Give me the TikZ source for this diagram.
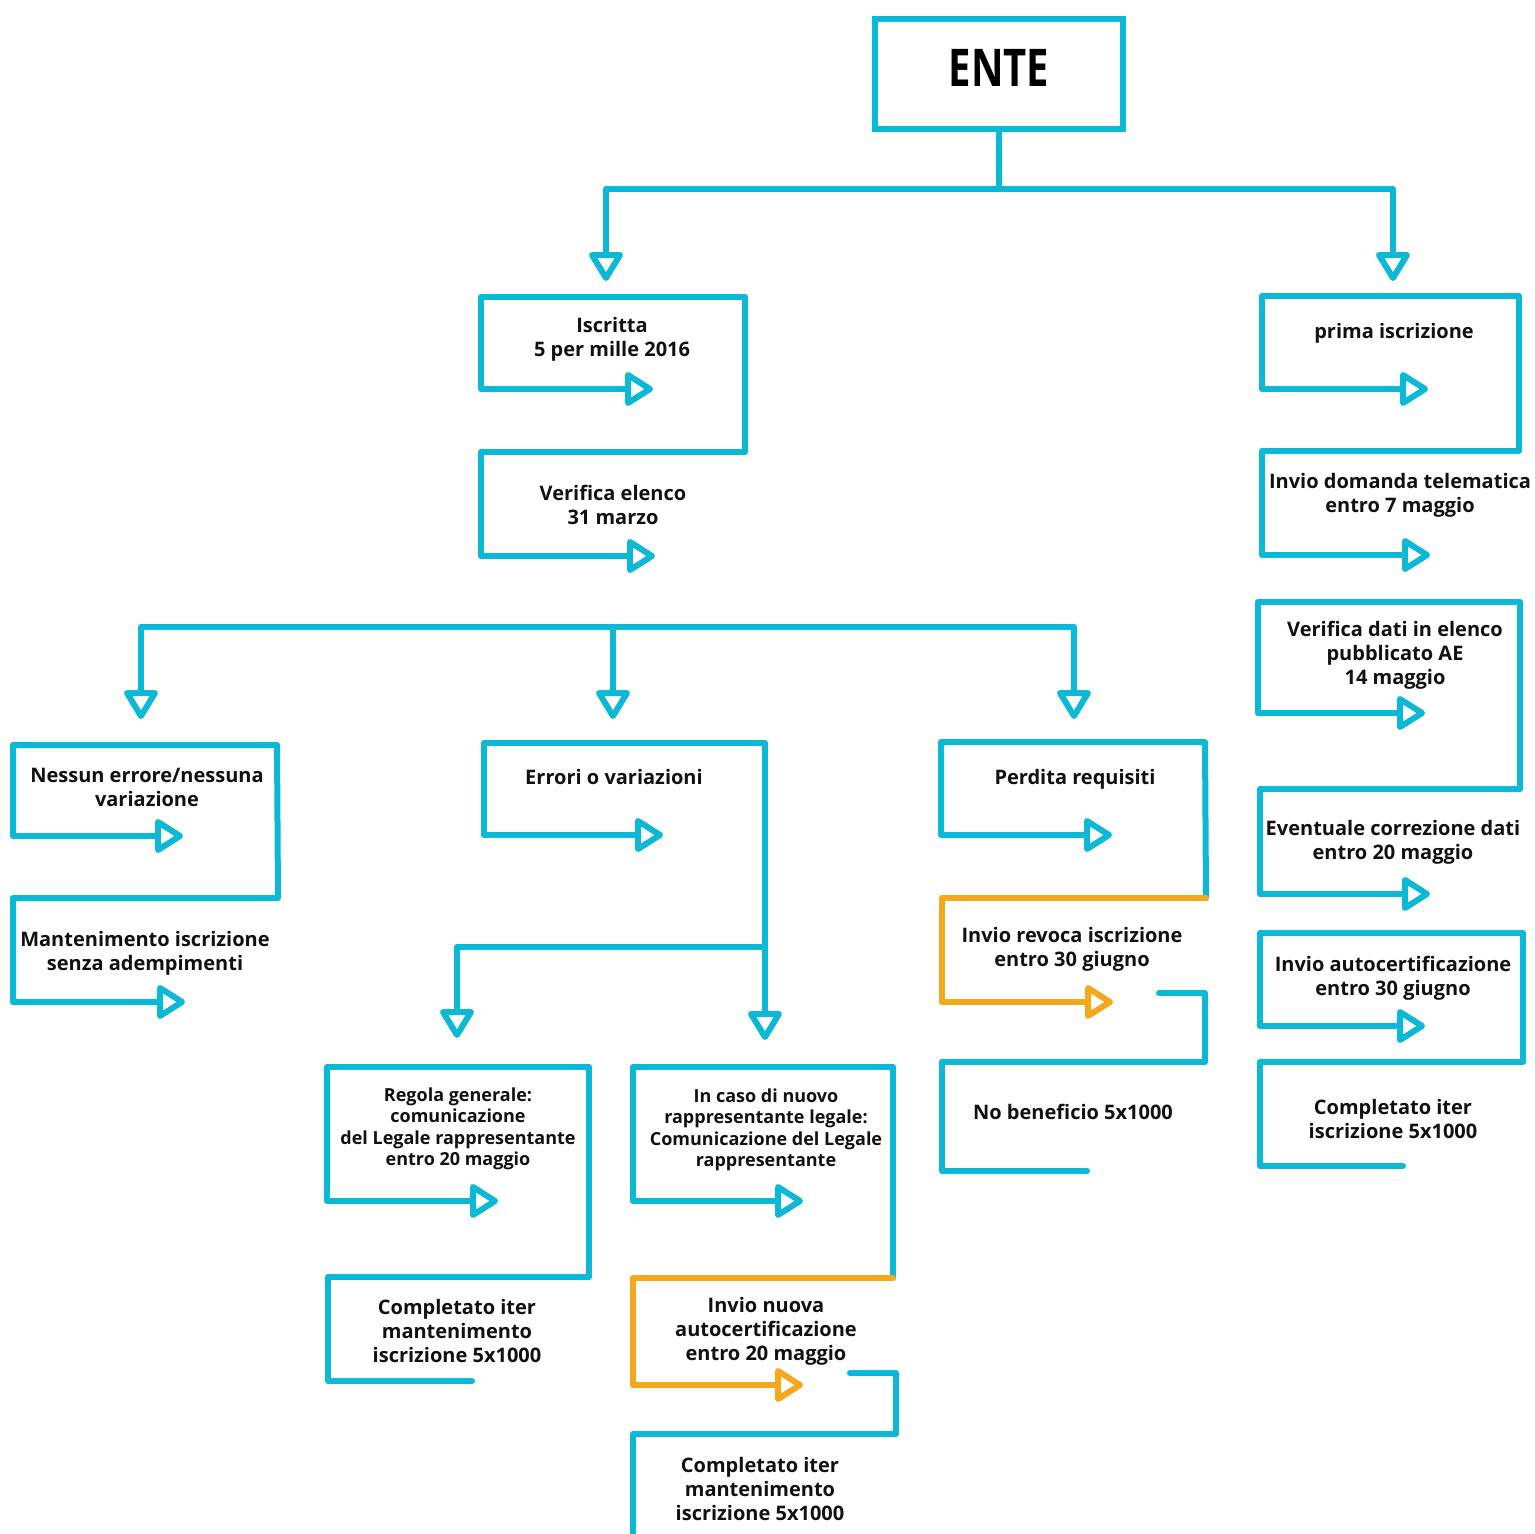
\documentclass[tikz,border=0pt]{standalone}
\usepackage{fontspec}
\setmainfont{Open Sans}
\usepackage{graphicx}
\definecolor{cyanc}{HTML}{0BB8D5}
\definecolor{orangec}{HTML}{F6A81B}
\definecolor{txt}{HTML}{111111}
\tikzset{
  bl/.style={draw=cyanc, line width=6pt, line cap=round, line join=round},
  ol/.style={draw=orangec, line width=6pt, line cap=round, line join=round},
  lbl/.style={align=center, text=txt, inner sep=0pt, yshift=-2pt, font=\fontsize{20}{24}\selectfont\bfseries},
  lbls/.style={align=center, text=txt, inner sep=0pt, yshift=-2pt, font=\fontsize{18}{21.5}\selectfont\bfseries},
  rarr/.pic={\path[pic actions] (0,-14) -- (22,0) -- (0,14) -- cycle;},
  darr/.pic={\path[pic actions] (-14,0) -- (0,23) -- (14,0) -- cycle;}
}
\begin{document}
\begin{tikzpicture}[x=1pt,y=-1pt]
\useasboundingbox[fill=white] (0,0) rectangle (1535,1534);

% ENTE
\node[draw=cyanc, line width=6pt, minimum width=248pt, minimum height=110pt, inner sep=0pt] (ente) at (999,74) {};
\node[text=black, inner sep=0pt] (entelbl) at (999,68) {\fontsize{52}{60}\selectfont\bfseries\scalebox{0.77}[1]{ENTE}};
\draw[bl] (ente.south) -- (999,189);
\draw[bl] (606,255) -- (606,189) -- (1393,189) -- (1393,255);
\pic[bl] at (606,255) {darr};
\pic[bl] at (1393,255) {darr};

% Iscritta group
\draw[bl] (628,389) -- (481,389) -- (481,297) -- (745,297) -- (745,452) -- (481,452) -- (481,556) -- (630,556);
\pic[bl] at (628,389) {rarr};
\pic[bl] at (630,556) {rarr};
\node[lbl] (iscritta) at (612,337) {Iscritta\\5 per mille 2016};
\node[lbl] (verifica) at (613,503) {Verifica elenco\\31 marzo};

% prima iscrizione group
\draw[bl] (1403,389) -- (1262,389) -- (1262,296) -- (1519,296) -- (1519,451) -- (1262,451) -- (1262,555) -- (1405,555);
\pic[bl] at (1403,389) {rarr};
\pic[bl] at (1405,555) {rarr};
\node[lbl] (prima) at (1394,331) {prima iscrizione};
\node[lbl] (invio) at (1400,493) {Invio domanda telematica\\entro 7 maggio};

% Verifica dati group
\draw[bl] (1400,713) -- (1258,713) -- (1258,602) -- (1520,602) -- (1520,789) -- (1260,789) -- (1260,894) -- (1405,894);
\pic[bl] at (1400,713) {rarr};
\pic[bl] at (1405,894) {rarr};
\node[lbl] (vdati) at (1395,653) {Verifica dati in elenco\\pubblicato AE\\14 maggio};
\node[lbl] (corr) at (1393,840) {Eventuale correzione dati\\entro 20 maggio};

% Invio autocertificazione group
\draw[bl] (1400,1026) -- (1260,1026) -- (1260,933) -- (1523,933) -- (1523,1062) -- (1260,1062) -- (1260,1166) -- (1403,1166);
\pic[bl] at (1400,1026) {rarr};
\node[lbl] (autoc) at (1393,976) {Invio autocertificazione\\entro 30 giugno};
\node[lbl] (compl1) at (1393,1117) {Completato iter\\iscrizione 5x1000};

% level 2 bus
\draw[bl] (141,693) -- (141,627) -- (1074,627) -- (1074,693);
\draw[bl] (613,627) -- (613,693);
\pic[bl] at (141,693) {darr};
\pic[bl] at (613,693) {darr};
\pic[bl] at (1074,693) {darr};

% Group A
\draw[bl] (158,836) -- (13,836) -- (13,745) -- (277,745) -- (278,898) -- (13,898) -- (13,1002) -- (160,1002);
\pic[bl] at (158,836) {rarr};
\pic[bl] at (160,1002) {rarr};
\node[lbl] (nessun) at (147,785) {Nessun errore/nessuna\\variazione};
\node[lbl] (mant) at (145,951) {Mantenimento iscrizione\\senza adempimenti};

% Group B
\draw[bl] (638,835) -- (484,835) -- (484,743) -- (765,743) -- (765,1014);
\draw[bl] (765,947) -- (457,947) -- (457,1012);
\pic[bl] at (638,835) {rarr};
\pic[bl] at (457,1012) {darr};
\pic[bl] at (765,1014) {darr};
\node[lbl] (errori) at (614,775) {Errori o variazioni};

% Group C
\draw[bl] (1087,835) -- (941,835) -- (941,742) -- (1205,742) -- (1206,898);
\pic[bl] at (1087,835) {rarr};
\draw[ol] (1206,898) -- (942,898) -- (942,1002) -- (1088,1002);
\pic[ol] at (1088,1002) {rarr};
\draw[bl] (1159,993) -- (1205,993) -- (1205,1062) -- (942,1062) -- (942,1171) -- (1087,1171);
\node[lbl] (perdita) at (1075,777) {Perdita requisiti};
\node[lbl] (revoca) at (1072,947) {Invio revoca iscrizione\\entro 30 giugno};
\node[lbl] (nobenef) at (1073,1110) {No beneficio 5x1000};

% Group D
\draw[bl] (473,1201) -- (327,1201) -- (327,1067) -- (589,1067) -- (589,1277) -- (328,1277) -- (328,1381) -- (472,1381);
\pic[bl] at (473,1201) {rarr};
\node[lbls] (regola) at (458,1127) {Regola generale:\\comunicazione\\del Legale rappresentante\\entro 20 maggio};
\node[lbl] (compl2) at (457,1329) {Completato iter\\mantenimento\\iscrizione 5x1000};

% Group E
\draw[bl] (778,1201) -- (633,1201) -- (633,1067) -- (893,1067) -- (893,1278);
\pic[bl] at (778,1201) {rarr};
\draw[ol] (893,1278) -- (633,1278) -- (633,1385) -- (778,1385);
\pic[ol] at (778,1385) {rarr};
\draw[bl] (850,1373) -- (896,1373) -- (896,1434) -- (633,1434) -- (633,1545);
\node[lbls] (nuovo) at (766,1128) {In caso di nuovo\\rappresentante legale:\\Comunicazione del Legale\\rappresentante};
\node[lbl] (nuova) at (766,1329) {Invio nuova\\autocertificazione\\entro 20 maggio};
\node[lbl] (compl3) at (760,1487) {Completato iter\\mantenimento\\iscrizione 5x1000};
\end{tikzpicture}
\end{document}
